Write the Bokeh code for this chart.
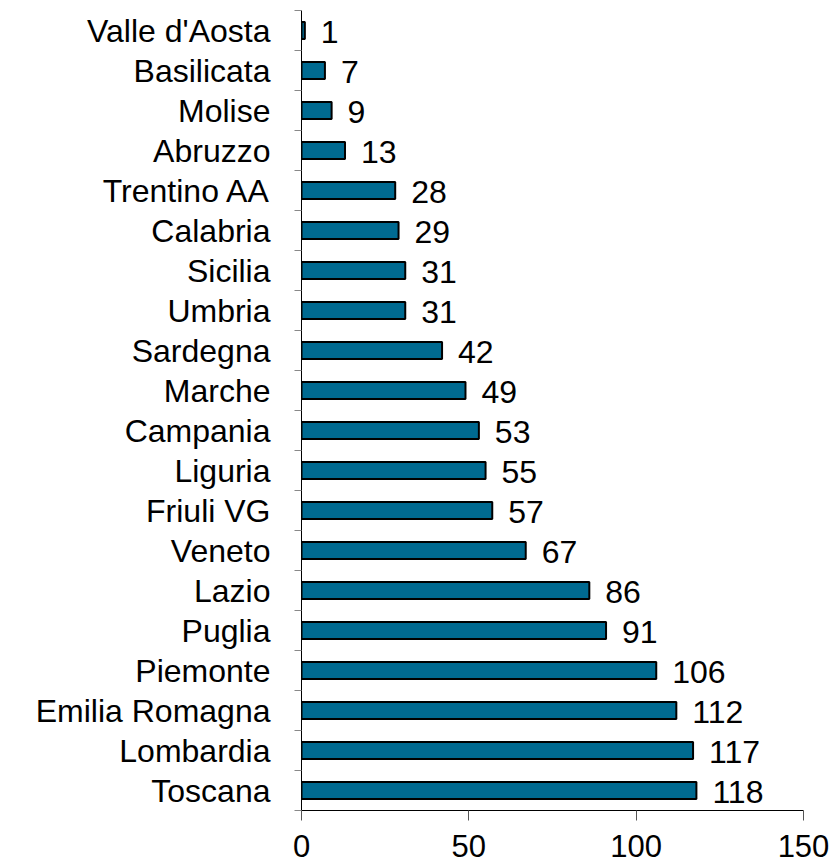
from bokeh.plotting import figure
from bokeh.models import ColumnDataSource, FixedTicker, Range1d, LabelSet
from bokeh.core.properties import value
from bokeh.embed import file_html
from bokeh.resources import INLINE

regions = ["Valle d'Aosta", "Basilicata", "Molise", "Abruzzo", "Trentino AA", "Calabria",
           "Sicilia", "Umbria", "Sardegna", "Marche", "Campania", "Liguria", "Friuli VG",
           "Veneto", "Lazio", "Puglia", "Piemonte", "Emilia Romagna", "Lombardia", "Toscana"]
counts = [1, 7, 9, 13, 28, 29, 31, 31, 42, 49, 53, 55, 57, 67, 86, 91, 106, 112, 117, 118]
x_ticks = [0, 50, 100, 150]

n = len(regions)
ypos = [n - i - 0.5 for i in range(n)]
src = ColumnDataSource(dict(y=ypos, v=counts, lab=[str(c) for c in counts]))

p = figure(output_backend="svg", toolbar_location=None,
           frame_width=502, frame_height=800,
           min_border_left=301, min_border_right=29, min_border_top=10, min_border_bottom=55,
           x_range=Range1d(0, 150), y_range=Range1d(0, n))
p.outline_line_color = None
p.grid.grid_line_color = None
p.background_fill_color = "white"

p.hbar(y="y", right="v", left=0, height=0.43, source=src,
       fill_color="#006a91", line_color="black", line_width=2)

labels = LabelSet(x="v", y="y", text="lab", source=src, x_offset=16, y_offset=-1,
                  text_baseline="middle", text_font=value("Liberation Sans"),
                  text_font_size="32px", text_color="black")
p.add_layout(labels)

p.xaxis.ticker = FixedTicker(ticks=x_ticks)
p.xaxis.minor_tick_line_color = None
p.xaxis.major_tick_out = 10
p.xaxis.major_tick_in = 0
p.xaxis.major_label_standoff = 14
p.xaxis.major_label_text_line_height = 1.0
p.xaxis.major_label_text_font = "Liberation Sans"
p.xaxis.major_label_text_font_size = "31px"
p.xaxis.major_label_text_color = "black"
p.xaxis.axis_line_color = "black"
p.xaxis.major_tick_line_color = "#555555"

p.yaxis.ticker = FixedTicker(ticks=ypos, minor_ticks=list(range(n + 1)))
p.yaxis.major_label_overrides = {y: r for y, r in zip(ypos, regions)}
p.yaxis.major_tick_line_color = None
p.yaxis.minor_tick_out = 7
p.yaxis.minor_tick_in = 0
p.yaxis.minor_tick_line_color = "#888888"
p.yaxis.major_label_standoff = 24
p.yaxis.major_label_text_font = "Liberation Sans"
p.yaxis.major_label_text_font_size = "32px"
p.yaxis.major_label_text_color = "black"
p.yaxis.axis_line_color = "black"

open("out.html", "w").write(file_html(p, INLINE))
